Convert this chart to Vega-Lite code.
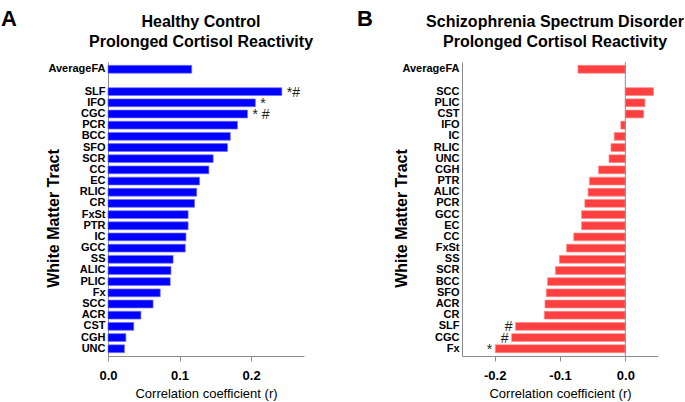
{
  "$schema": "https://vega.github.io/schema/vega-lite/v6.json",
  "padding": {"left": 0, "top": 7, "right": 0, "bottom": 4},
  "background": "white",
  "config": {
    "font": "Liberation Sans",
    "view": {"stroke": null},
    "axis": {
      "grid": false,
      "domainColor": "#8c8c8c",
      "tickColor": "#8c8c8c",
      "labelColor": "black",
      "titleColor": "black",
      "labelOverlap": false
    }
  },
  "datasets": {
    "hc": [
      {"tract": "AverageFA", "r": 0.117, "sig": ""},
      {"tract": "SLF", "r": 0.243, "sig": "*#"},
      {"tract": "IFO", "r": 0.206, "sig": "*"},
      {"tract": "CGC", "r": 0.195, "sig": "* #"},
      {"tract": "PCR", "r": 0.181, "sig": ""},
      {"tract": "BCC", "r": 0.171, "sig": ""},
      {"tract": "SFO", "r": 0.167, "sig": ""},
      {"tract": "SCR", "r": 0.147, "sig": ""},
      {"tract": "CC", "r": 0.141, "sig": ""},
      {"tract": "EC", "r": 0.128, "sig": ""},
      {"tract": "RLIC", "r": 0.124, "sig": ""},
      {"tract": "CR", "r": 0.121, "sig": ""},
      {"tract": "FxSt", "r": 0.112, "sig": ""},
      {"tract": "PTR", "r": 0.112, "sig": ""},
      {"tract": "IC", "r": 0.109, "sig": ""},
      {"tract": "GCC", "r": 0.108, "sig": ""},
      {"tract": "SS", "r": 0.091, "sig": ""},
      {"tract": "ALIC", "r": 0.088, "sig": ""},
      {"tract": "PLIC", "r": 0.087, "sig": ""},
      {"tract": "Fx", "r": 0.073, "sig": ""},
      {"tract": "SCC", "r": 0.063, "sig": ""},
      {"tract": "ACR", "r": 0.046, "sig": ""},
      {"tract": "CST", "r": 0.036, "sig": ""},
      {"tract": "CGH", "r": 0.025, "sig": ""},
      {"tract": "UNC", "r": 0.023, "sig": ""}
    ],
    "ssd": [
      {"tract": "AverageFA", "r": -0.0725, "sig": ""},
      {"tract": "SCC", "r": 0.043, "sig": ""},
      {"tract": "PLIC", "r": 0.030, "sig": ""},
      {"tract": "CST", "r": 0.028, "sig": ""},
      {"tract": "IFO", "r": -0.007, "sig": ""},
      {"tract": "IC", "r": -0.017, "sig": ""},
      {"tract": "RLIC", "r": -0.022, "sig": ""},
      {"tract": "UNC", "r": -0.025, "sig": ""},
      {"tract": "CGH", "r": -0.041, "sig": ""},
      {"tract": "PTR", "r": -0.055, "sig": ""},
      {"tract": "ALIC", "r": -0.057, "sig": ""},
      {"tract": "PCR", "r": -0.062, "sig": ""},
      {"tract": "GCC", "r": -0.067, "sig": ""},
      {"tract": "EC", "r": -0.067, "sig": ""},
      {"tract": "CC", "r": -0.079, "sig": ""},
      {"tract": "FxSt", "r": -0.090, "sig": ""},
      {"tract": "SS", "r": -0.101, "sig": ""},
      {"tract": "SCR", "r": -0.107, "sig": ""},
      {"tract": "BCC", "r": -0.119, "sig": ""},
      {"tract": "SFO", "r": -0.121, "sig": ""},
      {"tract": "ACR", "r": -0.123, "sig": ""},
      {"tract": "CR", "r": -0.124, "sig": ""},
      {"tract": "SLF", "r": -0.168, "sig": "#"},
      {"tract": "CGC", "r": -0.174, "sig": "#"},
      {"tract": "Fx", "r": -0.199, "sig": "*"}
    ],
    "zero": [{"r": 0}]
  },
  "align": "none",
  "spacing": 42,
  "hconcat": [
    {
      "title": {"text": "A", "anchor": "start", "fontSize": 22, "fontWeight": "bold", "color": "black", "offset": -17, "dx": -45},
      "vconcat": [
        {
          "width": 196,
          "height": 294,
          "title": {"text": ["Healthy Control", "Prolonged Cortisol Reactivity"], "fontSize": 16, "fontWeight": "bold", "color": "black", "lineHeight": 20, "offset": 12, "anchor": "middle", "frame": "group", "dx": -5},
          "data": {"name": "hc"},
          "encoding": {
            "y": {
              "field": "tract", "type": "nominal",
              "scale": {"domain": ["AverageFA", "gap", "SLF", "IFO", "CGC", "PCR", "BCC", "SFO", "SCR", "CC", "EC", "RLIC", "CR", "FxSt", "PTR", "IC", "GCC", "SS", "ALIC", "PLIC", "Fx", "SCC", "ACR", "CST", "CGH", "UNC"], "paddingInner": 0.3, "paddingOuter": 0.3},
              "axis": {"title": "White Matter Tract", "titleFontSize": 16, "titleFontWeight": "bold", "titlePadding": -14, "titleY": 156, "labelFontSize": 11, "labelFontWeight": "bold", "labelPadding": 3, "ticks": false, "labelExpr": "datum.value == 'gap' ? '' : datum.value"}
            }
          },
          "layer": [
            {
              "mark": {"type": "bar", "color": "#0000ff", "stroke": "#7070ff", "strokeWidth": 0.7},
              "encoding": {
                "x": {
                  "field": "r", "type": "quantitative",
                  "scale": {"domain": [0, 0.274], "nice": false, "zero": false},
                  "axis": {"title": "Correlation coefficient (r)", "values": [0, 0.05, 0.1, 0.15, 0.2, 0.25], "labelExpr": "datum.value == 0 ? '0.0' : datum.value == 0.1 ? '0.1' : datum.value == 0.2 ? '0.2' : ''", "labelOverlap": false, "labelFontSize": 13, "labelFontWeight": "bold", "labelPadding": 8, "labelFlush": false, "tickSize": 5, "titleFontSize": 13, "titleFontWeight": "normal", "titlePadding": 5}
                }
              }
            },
            {
              "transform": [{"filter": "datum.sig != ''"}],
              "mark": {"type": "text", "align": "left", "baseline": "middle", "dx": 5, "dy": 1, "fontSize": 14, "color": "#222222"},
              "encoding": {
                "x": {"field": "r", "type": "quantitative"},
                "text": {"field": "sig"}
              }
            }
          ]
        }
      ]
    },
    {
      "title": {"text": "B", "anchor": "start", "fontSize": 22, "fontWeight": "bold", "color": "black", "offset": -17, "dx": -37},
      "vconcat": [
        {
          "width": 196,
          "height": 294,
          "title": {"text": ["Schizophrenia Spectrum Disorder", "Prolonged Cortisol Reactivity"], "fontSize": 16, "fontWeight": "bold", "color": "black", "lineHeight": 20, "offset": 12, "anchor": "middle", "frame": "group", "dx": -5},
          "layer": [
            {
              "data": {"name": "ssd"},
              "mark": {"type": "bar", "color": "#ff4040", "stroke": "#ff8a8a", "strokeWidth": 0.7},
              "encoding": {
                "y": {
                  "field": "tract", "type": "nominal",
                  "scale": {"domain": ["AverageFA", "gap", "SCC", "PLIC", "CST", "IFO", "IC", "RLIC", "UNC", "CGH", "PTR", "ALIC", "PCR", "GCC", "EC", "CC", "FxSt", "SS", "SCR", "BCC", "SFO", "ACR", "CR", "SLF", "CGC", "Fx"], "paddingInner": 0.3, "paddingOuter": 0.3},
                  "axis": {"title": "White Matter Tract", "titleFontSize": 16, "titleFontWeight": "bold", "titlePadding": -8, "titleY": 156, "labelFontSize": 11, "labelFontWeight": "bold", "labelPadding": 3, "ticks": false, "labelExpr": "datum.value == 'gap' ? '' : datum.value"}
                },
                "x": {
                  "field": "r", "type": "quantitative",
                  "scale": {"domain": [-0.25, 0.05], "nice": false, "zero": false},
                  "axis": {"title": "Correlation coefficient (r)", "values": [-0.2, -0.15, -0.1, -0.05, 0, 0.05], "labelExpr": "datum.value == -0.2 ? '-0.2' : datum.value == -0.1 ? '-0.1' : datum.value == 0 ? '0.0' : ''", "labelOverlap": false, "labelFontSize": 13, "labelFontWeight": "bold", "labelPadding": 8, "labelFlush": false, "tickSize": 5, "titleFontSize": 13, "titleFontWeight": "normal", "titlePadding": 5}
                }
              }
            },
            {
              "data": {"name": "zero"},
              "mark": {"type": "rule", "color": "#8c8c8c", "strokeWidth": 1},
              "encoding": {"x": {"field": "r", "type": "quantitative"}}
            },
            {
              "data": {"name": "ssd"},
              "transform": [{"filter": "datum.sig != ''"}],
              "mark": {"type": "text", "align": "right", "baseline": "middle", "dx": -3, "dy": 1, "fontSize": 14, "color": "#222222"},
              "encoding": {
                "y": {"field": "tract", "type": "nominal"},
                "x": {"field": "r", "type": "quantitative"},
                "text": {"field": "sig"}
              }
            }
          ]
        }
      ]
    }
  ]
}
